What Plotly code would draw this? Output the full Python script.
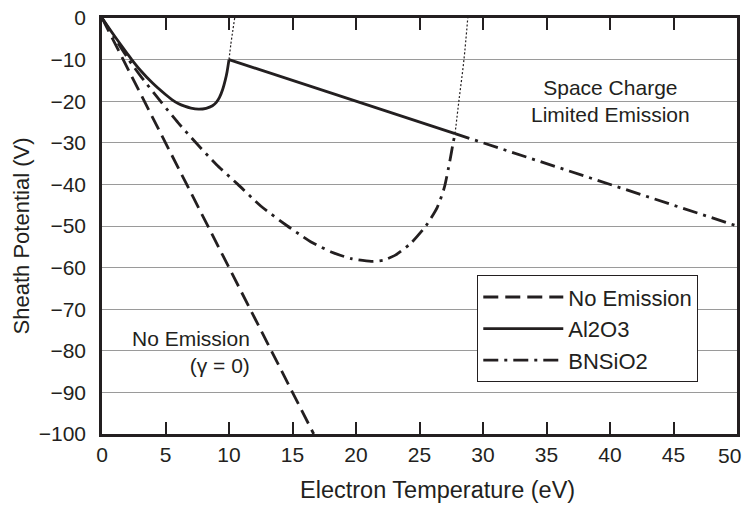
import plotly.graph_objects as go

# Sheath potential vs electron temperature
no_emission_x = [0, 16.67]
no_emission_y = [0, -100]

al2o3_curve_x = [0, 1, 2, 2.34, 3, 4, 5, 5.5, 6, 6.5, 7, 7.6, 8.2, 8.7, 9.0, 9.25, 9.5, 9.7, 9.85, 10]
al2o3_curve_y = [0, -4.4, -8.6, -10, -12.5, -15.7, -18.4, -19.6, -20.55, -21.2, -21.65, -21.9, -21.7, -21.1,
                 -20.3, -19.1, -17.2, -15.0, -12.9, -10]
al2o3_scl_x = [10, 27.8]
al2o3_scl_y = [-10, -27.8]
al2o3_ext_x = [10, 10.15, 10.3, 10.45]
al2o3_ext_y = [-10, -6.2, -3, 0]

bnsio2_curve_x = [0, 1, 2.1, 3, 4.6, 6, 7.4, 9, 10.7, 12.5, 14.6, 15.5, 16.5, 18.1, 19.7, 21.2,
                  22.2, 23.1, 24.3, 25.5, 26.4, 26.95, 27.4, 27.65, 27.8]
bnsio2_curve_y = [0, -4.8, -10, -13.8, -20, -25.2, -30, -35.2, -40, -45.2, -50, -51.9, -53.9, -56.3, -57.9, -58.5,
                  -58.2, -57.0, -54.2, -50.0, -45.5, -40.8, -34.2, -30, -27.8]
bnsio2_scl_x = [27.8, 50]
bnsio2_scl_y = [-27.8, -50]
bnsio2_ext_x = [27.8, 28.1, 28.5, 28.8]
bnsio2_ext_y = [-27.8, -20, -10, 0]

x_ticks = [0, 5, 10, 15, 20, 25, 30, 35, 40, 45, 50]
x_tick_text = ["0", "5", "10", "15", "20", "25", "30", "35", "40", "45", ""]
y_ticks = [0, -10, -20, -30, -40, -50, -60, -70, -80, -90, -100]

INK = "#231f20"
FONT = "Liberation Sans, Arial, sans-serif"
DASH = "15px,7px"
DASHDOT = "15px,6px,3px,6px"
DOT = "2px,2px"
LW = 2.8

fig = go.Figure()

fig.add_trace(go.Scatter(x=no_emission_x, y=no_emission_y, mode="lines", name="No Emission",
                         line=dict(color=INK, width=LW, dash=DASH)))

fig.add_trace(go.Scatter(x=al2o3_curve_x, y=al2o3_curve_y, mode="lines", name="Al2O3",
                         legendgroup="al", line=dict(color=INK, width=LW, shape="spline", smoothing=0.8)))
fig.add_trace(go.Scatter(x=al2o3_scl_x, y=al2o3_scl_y, mode="lines", showlegend=False,
                         legendgroup="al", line=dict(color=INK, width=LW)))
fig.add_trace(go.Scatter(x=al2o3_ext_x, y=al2o3_ext_y, mode="lines", showlegend=False,
                         legendgroup="al", line=dict(color=INK, width=1.2, dash=DOT, shape="spline")))

fig.add_trace(go.Scatter(x=bnsio2_curve_x, y=bnsio2_curve_y, mode="lines", name="BNSiO2",
                         legendgroup="bn", line=dict(color=INK, width=LW, dash=DASHDOT, shape="spline", smoothing=0.6)))
fig.add_trace(go.Scatter(x=bnsio2_scl_x, y=bnsio2_scl_y, mode="lines", showlegend=False,
                         legendgroup="bn", line=dict(color=INK, width=LW, dash=DASHDOT)))
fig.add_trace(go.Scatter(x=bnsio2_ext_x, y=bnsio2_ext_y, mode="lines", showlegend=False,
                         legendgroup="bn", line=dict(color=INK, width=1.2, dash=DOT, shape="spline")))

fig.update_layout(
    width=746, height=505,
    margin=dict(l=102, r=6, t=13, b=71),
    paper_bgcolor="white", plot_bgcolor="white",
    font=dict(family=FONT, size=21, color=INK),
    showlegend=True,
    legend=dict(x=0.591, y=0.3817, xanchor="left", yanchor="top",
                bgcolor="white", bordercolor=INK, borderwidth=1,
                font=dict(size=22), itemwidth=80, tracegroupgap=0),
    xaxis=dict(range=[0, 50], tickvals=x_ticks, ticktext=x_tick_text, ticks="inside", ticklen=12,
               tickwidth=1.5, tickcolor=INK, showline=True, linecolor=INK, linewidth=2.5,
               mirror="ticks", showgrid=False, zeroline=False),
    yaxis=dict(range=[-100, 0], tickvals=y_ticks, ticks="", showline=True, linecolor=INK,
               linewidth=2.5, mirror=True, showgrid=True, gridcolor="#9a9a9a", gridwidth=1.2,
               zeroline=False, ticklabelstandoff=9),
    annotations=[
        dict(text="50", xref="paper", yref="paper", x=1, xshift=6, y=-0.0515,
             xanchor="right", yanchor="middle", showarrow=False),
        dict(text="Electron Temperature (eV)", xref="paper", yref="paper", x=0.528, y=-0.1354,
             xanchor="center", yanchor="middle", showarrow=False, font=dict(size=23.5)),
        dict(text="Sheath Potential (V)", xref="paper", yref="paper", x=-0.1264, y=0.4767,
             xanchor="center", yanchor="middle", textangle=-90, showarrow=False, font=dict(size=22)),
        dict(text="Space Charge<br>Limited Emission", x=40, y=-20, xanchor="center",
             yanchor="middle", align="center", showarrow=False),
        dict(text="No Emission<br>(γ = 0)", x=11.8, y=-80.4, xanchor="right",
             yanchor="middle", align="right", showarrow=False),
    ],
)

fig.write_html("out.html")
